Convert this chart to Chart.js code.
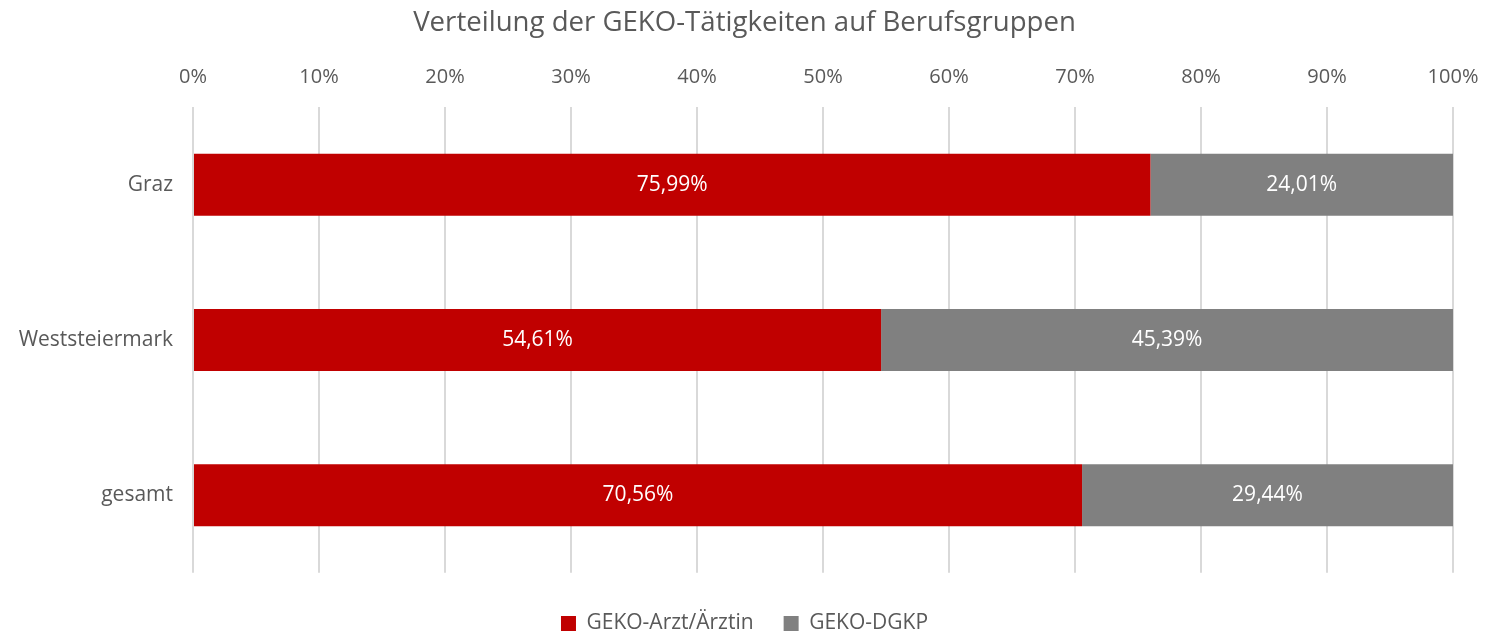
<!DOCTYPE html>
<html><head><meta charset="utf-8">
<script src="https://cdn.jsdelivr.net/npm/chart.js@4/dist/chart.umd.min.js"></script>
<style>html,body{margin:0;padding:0;background:#fff}#wrap{width:1489px;height:635px}</style>
</head><body><div id="wrap"><canvas id="c" width="1489" height="635"></canvas></div>
<script>
const categories = ["Graz", "Weststeiermark", "gesamt"];
const arztValues = [75.99, 54.61, 70.56];
const dgkpValues = [24.01, 45.39, 29.44];
const seriesNames = ["GEKO-Arzt/Ärztin", "GEKO-DGKP"];
const tickStep = 10;

const FONT = "'Open Sans', 'Noto Sans', sans-serif";
const fmt = v => v.toFixed(2).replace('.', ',') + '%';

const labelPlugin = {
  id: 'barLabels',
  afterDatasetsDraw(chart) {
    const ctx = chart.ctx;
    ctx.save();
    ctx.fillStyle = '#ffffff';
    ctx.font = "21px " + FONT;
    ctx.textAlign = 'center';
    ctx.textBaseline = 'middle';
    chart.data.datasets.forEach((ds, i) => {
      chart.getDatasetMeta(i).data.forEach((bar, j) => {
        const cx = (bar.x + bar.base) / 2;
        ctx.fillText(fmt(ds.data[j]), cx, bar.y);
      });
    });
    ctx.restore();
  }
};

new Chart(document.getElementById('c'), {
  type: 'bar',
  data: {
    labels: categories,
    datasets: [
      { label: seriesNames[0], data: arztValues, backgroundColor: '#C00000', borderWidth: 0 },
      { label: seriesNames[1], data: dgkpValues, backgroundColor: '#808080', borderWidth: 0 }
    ]
  },
  options: {
    indexAxis: 'y',
    responsive: false,
    animation: false,
    layout: { padding: { left: 0, right: 0, top: 5, bottom: -9 } },
    plugins: {
      title: { display: true, text: 'Verteilung der GEKO-Tätigkeiten auf Berufsgruppen', color: '#595959',
        font: { family: FONT, size: 27.6, weight: 'normal' }, padding: { top: 2, bottom: 7 } },
      legend: { position: 'bottom',
        title: { display: true, text: ' ', font: { size: 1 }, padding: { top: 0, bottom: 9 } },
        labels: { color: '#595959', font: { family: FONT, size: 21 },
        boxWidth: 15, boxHeight: 15, padding: 30 } },
      tooltip: { enabled: false }
    },
    scales: {
      x: {
        position: 'top', stacked: true, min: 0, max: 100,
        afterFit: s => { s.paddingRight = 36; s.paddingLeft = 0; },
        ticks: { stepSize: tickStep, color: '#595959', font: { family: FONT, size: 20 }, padding: 18,
          callback: v => v + '%' },
        grid: { color: '#d9d9d9', lineWidth: 2, drawTicks: false },
        border: { display: false }
      },
      y: {
        stacked: true,
        afterFit: s => { s.width = 193; },
        ticks: { color: '#595959', font: { family: FONT, size: 21 }, padding: 20 },
        grid: { display: false, drawTicks: false },
        border: { display: false }
      }
    },
    datasets: { bar: { barPercentage: 0.4, categoryPercentage: 1.0 } }
  },
  plugins: [labelPlugin]
});
</script>
</body></html>
